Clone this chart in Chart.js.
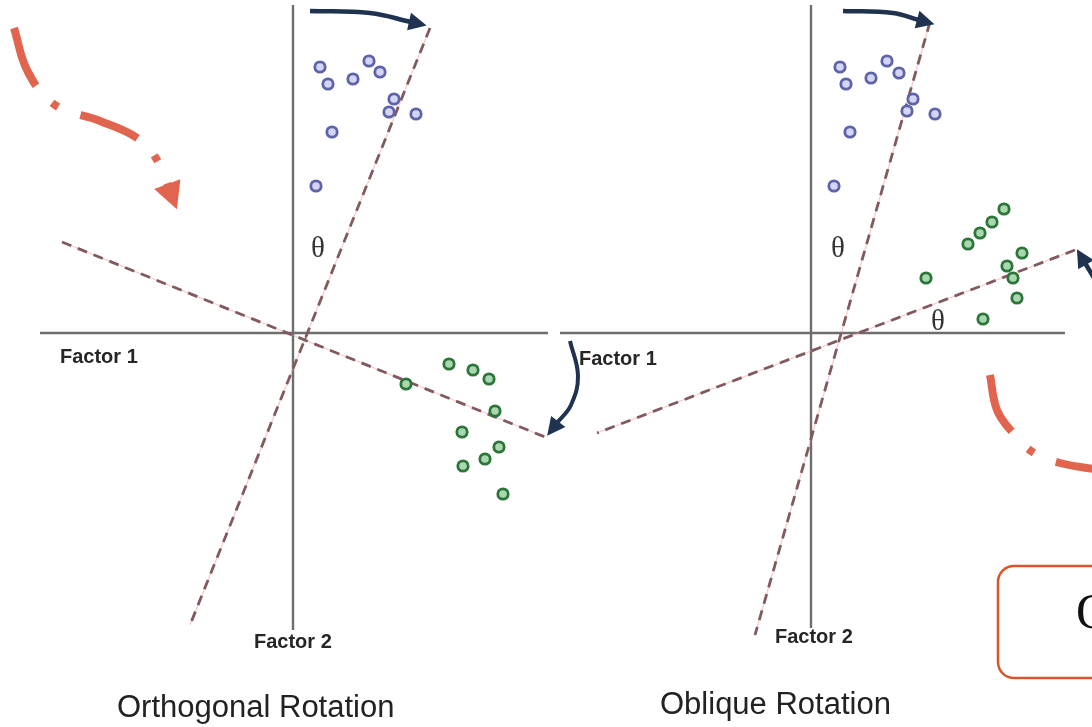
<!DOCTYPE html>
<html>
<head>
<meta charset="utf-8">
<script src="https://cdn.jsdelivr.net/npm/chart.js@4.4.1/dist/chart.umd.min.js"></script>
<style>
html, body { margin: 0; padding: 0; background: #fff; }
#wrap { width: 1092px; height: 727px; position: relative; }
</style>
</head>
<body>
<div id="wrap"><canvas id="c"></canvas></div>
<script>
// values are in picture units: x 0..1092 left to right, y 0..727 top to bottom

// loadings, orthogonal panel
const leftBlue = [[320,67],[328,84],[353,79],[369,61],[380,72],[394,99],[389,112],[416,114],[332,132],[316,186]];
const leftGreen = [[449,364],[473,370],[489,379],[495,411],[462,432],[499,447],[485,459],[463,466],[503,494],[406,384]];
// loadings, oblique panel
const rightBlue = [[840,67],[846,84],[871,78],[887,61],[899,73],[913,99],[907,111],[935,114],[850,132],[834,186]];
const rightGreen = [[1004,209],[992,222],[980,233],[968,244],[1022,253],[1007,266],[1013,278],[926,278],[1017,298],[983,319]];

// original factor axes
const leftAxisH = [[40,333],[548,333]];
const leftAxisV = [[293,5],[293,630]];
const rightAxisH = [[560,333],[1065,333]];
const rightAxisV = [[811,5],[811,628]];

// rotated factor axes
const leftRot1 = [[430,28],[190,625]];
const leftRot2 = [[62,242],[545,437]];
const rightRot1 = [[930,22],[755,635]];
const rightRot2 = [[1075,250],[597,433]];
const rightAngleMark = [[299,337],[305,340],[307,334]];

// rotation arrows
const arrowLeftTop = [[310,11],[370,13],[411,22]];
const arrowLeftSide = [[570,341],[578,376],[571,405],[557,423]];
const arrowRightTop = [[843,11],[893,13],[919,20]];
const arrowRightSide = [[1115,322],[1095,280],[1085,263]];

// highlight arrows
const swooshLeft = [[14,28],[28,72],[55,105],[100,121],[140,140],[160,165],[168,186]];
const swooshRight = [[990,375],[997,410],[1013,433],[1034,453],[1060,463],[1100,470]];

const labels = [
  { text: 'Factor 1', x: 60, y: 363, font: 'bold 20px "Liberation Sans"', color: '#262626' },
  { text: 'Factor 1', x: 579, y: 365, font: 'bold 20px "Liberation Sans"', color: '#262626' },
  { text: 'Factor 2', x: 254, y: 648, font: 'bold 20px "Liberation Sans"', color: '#262626' },
  { text: 'Factor 2', x: 775, y: 643, font: 'bold 20px "Liberation Sans"', color: '#262626' },
  { text: 'θ', x: 311, y: 257, font: '29px "Liberation Serif"', color: '#333' },
  { text: 'θ', x: 831, y: 257, font: '29px "Liberation Serif"', color: '#333' },
  { text: 'θ', x: 931, y: 330, font: '29px "Liberation Serif"', color: '#333' },
  { text: 'Orthogonal Rotation', x: 117, y: 717, font: '31px "Liberation Sans"', color: '#222' },
  { text: 'Oblique Rotation', x: 660, y: 714, font: '31px "Liberation Sans"', color: '#222' },
  { text: 'Oblique', x: 1076, y: 628, font: '50px "Liberation Serif"', color: '#111' }
];

const box = { x: 998, y: 566, w: 140, h: 112, r: 16, color: '#d8552c' };

const xy = arr => arr.map(p => ({ x: p[0], y: p[1] }));

function pointSet(arr, border, fill) {
  return {
    data: xy(arr), showLine: false, order: 0,
    pointRadius: 5.2, pointHoverRadius: 5.2, pointBorderWidth: 2.8,
    pointBorderColor: border, pointBackgroundColor: fill
  };
}
function lineSet(arr, color, width, extra) {
  return Object.assign({
    data: xy(arr), showLine: true, pointRadius: 0, pointHoverRadius: 0,
    borderColor: color, borderWidth: width, tension: 0, order: 5, borderCapStyle: 'butt'
  }, extra || {});
}

const navy = '#1f3250';
const coral = '#e0644e';
const dashCol = '#805a5e';

const datasets = [
  pointSet(leftBlue, '#5e63aa', '#d3d5f2'),
  pointSet(rightBlue, '#5e63aa', '#d3d5f2'),
  pointSet(leftGreen, '#2b7638', '#a9d8b0'),
  pointSet(rightGreen, '#2b7638', '#a9d8b0'),
  lineSet(leftAxisH, '#6e6e6e', 2.4, { order: 9 }),
  lineSet(leftAxisV, '#6e6e6e', 2.4, { order: 9 }),
  lineSet(rightAxisH, '#6e6e6e', 2.4, { order: 9 }),
  lineSet(rightAxisV, '#6e6e6e', 2.4, { order: 9 }),
  lineSet(leftRot1, 'rgba(240,150,150,0.5)', 1.2, { order: 8 }),
  lineSet(leftRot2, 'rgba(240,150,150,0.5)', 1.2, { order: 8 }),
  lineSet(rightRot1, 'rgba(240,150,150,0.5)', 1.2, { order: 8 }),
  lineSet(rightRot2, 'rgba(240,150,150,0.5)', 1.2, { order: 8 }),
  lineSet(leftRot1, dashCol, 2.8, { borderDash: [10, 7], order: 7 }),
  lineSet(leftRot2, dashCol, 2.8, { borderDash: [10, 7], order: 7 }),
  lineSet(rightRot1, dashCol, 2.8, { borderDash: [10, 7], order: 7 }),
  lineSet(rightRot2, dashCol, 2.8, { borderDash: [10, 7], order: 7 }),
  lineSet(rightAngleMark, dashCol, 1.5, { order: 7 }),
  lineSet(arrowLeftTop, navy, 4.5, { tension: 0.4, arrow: { len: 16, half: 9 } }),
  lineSet(arrowLeftSide, navy, 4, { tension: 0.4, arrow: { len: 16, half: 9 } }),
  lineSet(arrowRightTop, navy, 4.5, { tension: 0.4, arrow: { len: 16, half: 9 } }),
  lineSet(arrowRightSide, navy, 4.5, { tension: 0.4, arrow: { len: 16, half: 9 } }),
  lineSet(swooshLeft, coral, 8, { tension: 0.4, borderDash: [62, 24, 7, 24], arrow: { len: 25, half: 14 } }),
  lineSet(swooshRight, coral, 8, { tension: 0.4, borderDash: [62, 24, 7, 24] })
];

const decor = {
  id: 'decor',
  afterDatasetsDraw(chart) {
    const ctx = chart.ctx;
    chart.data.datasets.forEach((ds, i) => {
      if (!ds.arrow) return;
      const pts = chart.getDatasetMeta(i).data;
      const last = pts[pts.length - 1];
      const prev = pts[pts.length - 2];
      let cx = last.cp1x, cy = last.cp1y;
      if (cx === undefined || (cx === last.x && cy === last.y)) { cx = prev.x; cy = prev.y; }
      let dx = last.x - cx, dy = last.y - cy;
      const d = Math.hypot(dx, dy) || 1;
      dx /= d; dy /= d;
      const a = ds.arrow;
      ctx.save();
      ctx.fillStyle = ds.borderColor;
      ctx.beginPath();
      ctx.moveTo(last.x + dx * a.len, last.y + dy * a.len);
      ctx.lineTo(last.x - dy * a.half - dx * 2, last.y + dx * a.half - dy * 2);
      ctx.lineTo(last.x + dy * a.half - dx * 2, last.y - dx * a.half - dy * 2);
      ctx.closePath();
      ctx.fill();
      ctx.restore();
    });
  },
  afterDraw(chart) {
    const ctx = chart.ctx;
    const sx = chart.scales.x, sy = chart.scales.y;
    ctx.save();
    const bx = sx.getPixelForValue(box.x), by = sy.getPixelForValue(box.y);
    ctx.strokeStyle = box.color;
    ctx.lineWidth = 2.5;
    ctx.beginPath();
    ctx.roundRect(bx, by, box.w, box.h, box.r);
    ctx.stroke();
    ctx.textAlign = 'left';
    ctx.textBaseline = 'alphabetic';
    labels.forEach(l => {
      ctx.font = l.font;
      ctx.fillStyle = l.color;
      ctx.fillText(l.text, sx.getPixelForValue(l.x), sy.getPixelForValue(l.y));
    });
    ctx.restore();
  }
};

new Chart(document.getElementById('c'), {
  type: 'scatter',
  data: { datasets: datasets },
  options: {
    responsive: true,
    maintainAspectRatio: false,
    animation: false,
    layout: { padding: 0, autoPadding: false },
    plugins: { legend: { display: false }, tooltip: { enabled: false } },
    scales: {
      x: { type: 'linear', min: 0, max: 1092, display: false },
      y: { type: 'linear', min: 0, max: 727, reverse: true, display: false }
    }
  },
  plugins: [decor]
});
</script>
</body>
</html>
